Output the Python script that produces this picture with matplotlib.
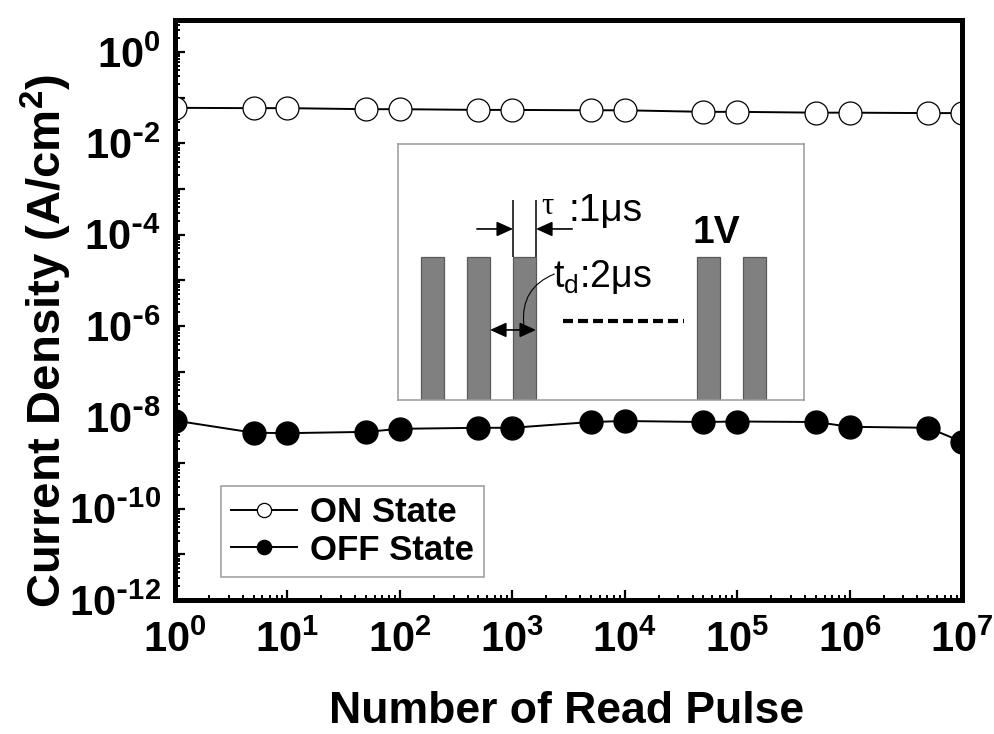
import math

import matplotlib

matplotlib.use("Agg")
import matplotlib.pyplot as plt
from matplotlib.patches import FancyArrowPatch
from matplotlib.ticker import FuncFormatter, LogLocator, NullFormatter

# read-disturb endurance: current density after N read pulses
read_pulses = [1, 5, 10, 50, 100, 500, 1e3, 5e3, 1e4, 5e4, 1e5, 5e5, 1e6, 5e6, 1e7]
on_state = [0.060, 0.059, 0.059, 0.056, 0.056, 0.054, 0.054, 0.053, 0.053,
            0.049, 0.049, 0.047, 0.047, 0.046, 0.046]
off_state = [8.5e-9, 4.6e-9, 4.5e-9, 4.8e-9, 5.6e-9, 5.9e-9, 5.9e-9, 7.9e-9,
             8.3e-9, 7.9e-9, 8.1e-9, 7.9e-9, 6.2e-9, 5.9e-9, 2.9e-9]

# read waveform shown in the inset (time in us, amplitude in V)
pulse_starts = [0, 2, 4, 12, 14]
pulse_width = 1.0
pulse_amp = 1.0

plt.rcParams["font.family"] = ["Liberation Sans", "DejaVu Sans"]
plt.rcParams["font.weight"] = "bold"
plt.rcParams["mathtext.default"] = "regular"
plt.rcParams["axes.unicode_minus"] = False

fig = plt.figure(figsize=(9.94, 7.34), dpi=100)
ax = fig.add_axes([0.176, 0.1826, 0.792, 0.790])

ax.plot(read_pulses, on_state, "-o", color="k", lw=1.4, ms=16.5,
        mfc="white", mec="k", mew=0.9, label="ON State")
ax.plot(read_pulses, off_state, "-o", color="k", lw=1.4, ms=16.5,
        mfc="k", mec="k", label="OFF State")

ax.set_xscale("log")
ax.set_yscale("log")
ax.set_xlim(1, 1e7)
ax.set_ylim(1e-12, 5)

ax.xaxis.set_major_locator(LogLocator(base=10, numticks=20))
ax.xaxis.set_minor_locator(LogLocator(base=10, subs=range(2, 10), numticks=100))
ax.yaxis.set_major_locator(LogLocator(base=10, numticks=30))
ax.yaxis.set_minor_locator(LogLocator(base=10, subs=range(2, 10), numticks=200))
ax.xaxis.set_minor_formatter(NullFormatter())
ax.yaxis.set_minor_formatter(NullFormatter())


def power_label(e):
    # plain hyphen in the exponent, like the original axis labels
    if e < 0:
        return r"$\mathregular{10^{\text{-}%d}}$" % -e
    return r"$\mathregular{10^{%d}}$" % e


def decade(v, pos):
    return power_label(int(round(math.log10(v))))


def even_decade(v, pos):
    e = int(round(math.log10(v)))
    return "" if e % 2 else power_label(e)


ax.xaxis.set_major_formatter(FuncFormatter(decade))
ax.yaxis.set_major_formatter(FuncFormatter(even_decade))

for side in ("left", "bottom", "top", "right"):
    ax.spines[side].set_linewidth(3.6)
ax.tick_params(which="both", direction="in", top=False, right=False)
ax.tick_params(which="major", length=7, width=1.6, labelsize=30)
ax.tick_params(which="minor", length=3.5, width=1.4)
ax.tick_params(axis="x", which="major", pad=15)
ax.tick_params(axis="y", which="major", pad=10)

fig.text(46 / 994, 0.535, "Current Density (A/cm$^{2}$)", rotation=90,
         ha="center", va="center", fontsize=34, fontweight="bold")
fig.text(567 / 994, 11 / 734, "Number of Read Pulse", ha="center",
         va="baseline", fontsize=32, fontweight="bold")

leg = ax.legend(loc="upper left", bbox_to_anchor=(0.0585, 0.1966),
                borderaxespad=0, prop=dict(size=25, weight="bold"),
                markerscale=0.62, handlelength=1.9, handletextpad=0.35,
                labelspacing=0.12, borderpad=0.3, fancybox=False,
                edgecolor="#9a9a9a", framealpha=1)
leg.get_frame().set_linewidth(1.1)

# inset: read pulse train
ins = fig.add_axes([0.4004, 0.455, 0.4085, 0.3488])
ins.set_xlim(-1, 16.65)
ins.set_ylim(0, 1.79)
ins.set_xticks([])
ins.set_yticks([])
for side in ins.spines.values():
    side.set_edgecolor("#9a9a9a")
    side.set_linewidth(1.1)

ins.bar(pulse_starts, [pulse_amp] * len(pulse_starts), width=pulse_width,
        align="edge", color="#808080", edgecolor="#5a5a5a", lw=0.9)

t0 = pulse_starts[2]
t1 = t0 + pulse_width
head = "-|>,head_length=0.55,head_width=0.25"
ins.vlines([t0, t1], pulse_amp, 1.40, color="k", lw=1.1)
ins.annotate("", xy=(t0, 1.196), xytext=(2.43, 1.196),
             arrowprops=dict(arrowstyle=head, color="k", lw=1.2, mutation_scale=18,
                             shrinkA=0, shrinkB=0))
ins.annotate("", xy=(t1, 1.196), xytext=(6.57, 1.196),
             arrowprops=dict(arrowstyle=head, color="k", lw=1.2, mutation_scale=18,
                             shrinkA=0, shrinkB=0))
ins.annotate("", xy=(pulse_starts[1] + pulse_width, 0.49), xytext=(t1, 0.49),
             arrowprops=dict(arrowstyle="<|-|>,head_length=0.55,head_width=0.25",
                             color="k", lw=1.2, mutation_scale=18,
                             shrinkA=0, shrinkB=0))

ins.text(5.25, 1.35, "τ", fontsize=22, fontweight="normal", va="center",
         family=["Liberation Serif", "DejaVu Serif"])
ins.text(6.4, 1.32, ":1μs", fontsize=28, fontweight="normal", va="center")
ins.text(11.8, 1.17, "1V", fontsize=28, fontweight="bold", va="center")
ins.text(5.72, 0.86, "t$_{d}$:2μs", fontsize=27, fontweight="normal", va="center")

ins.add_patch(FancyArrowPatch((5.91, 0.888), (4.48, 0.51), arrowstyle="-",
                              connectionstyle="arc3,rad=0.4", lw=0.8, color="k"))
ins.plot([6.17, 11.43], [0.552, 0.552], color="k", lw=3, ls=(0, (2.4, 1.2)))

fig.savefig("out.png", dpi=100)
